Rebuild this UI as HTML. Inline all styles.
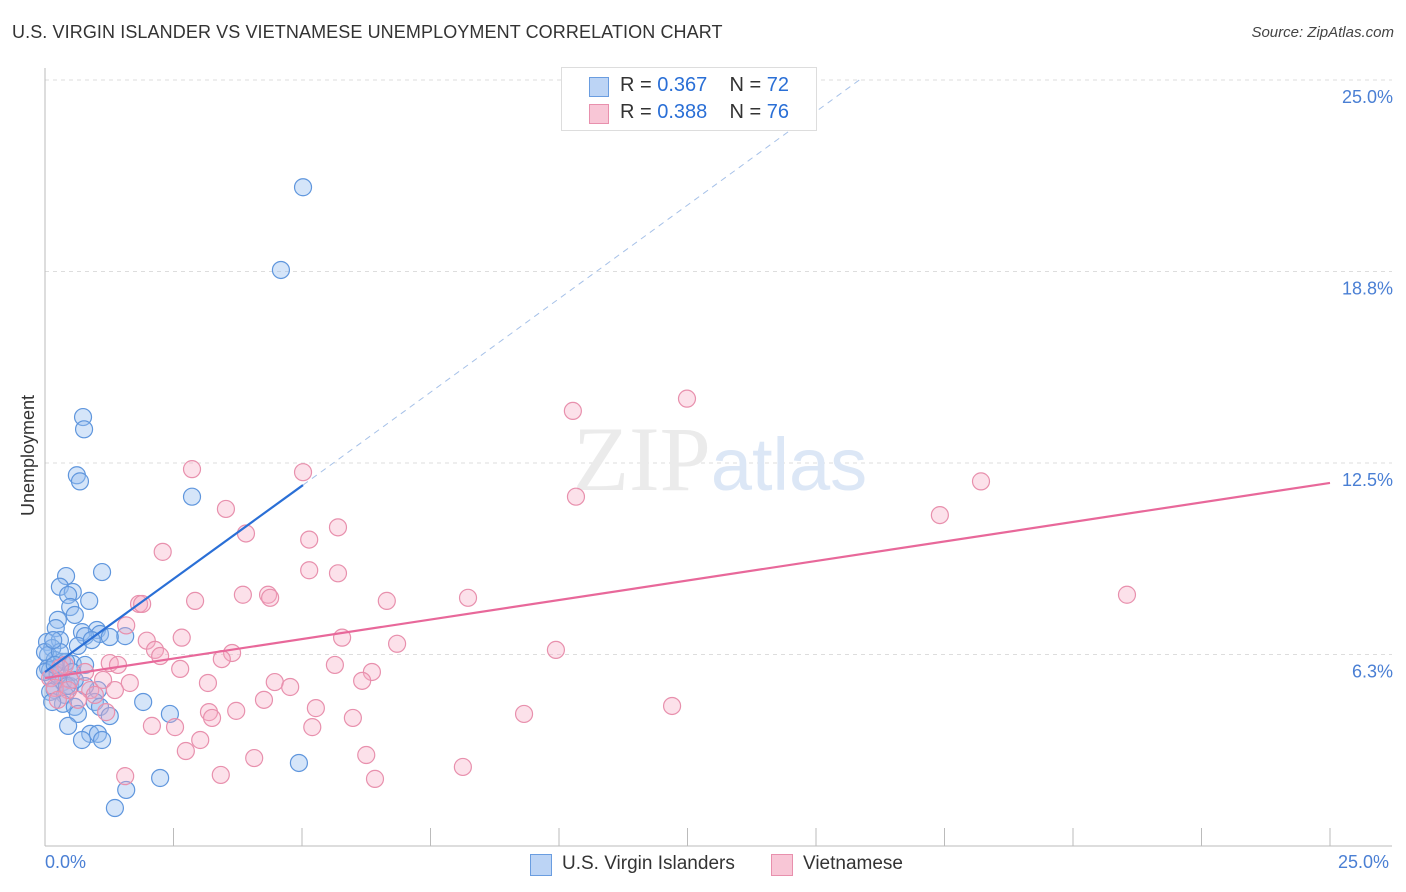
<!DOCTYPE html>
<html><head><meta charset="utf-8">
<style>
body{margin:0;background:#fff;font-family:"Liberation Sans",sans-serif;}
#wrap{position:relative;width:1406px;height:892px;overflow:hidden;}
.t{position:absolute;white-space:nowrap;}
</style></head>
<body>
<div id="wrap">
<div class="t" style="left:12px;top:22px;font-size:18px;color:#333;letter-spacing:0.1px">U.S. VIRGIN ISLANDER VS VIETNAMESE UNEMPLOYMENT CORRELATION CHART</div>
<div class="t" style="right:12px;top:24px;font-size:15px;color:#444;font-style:italic">Source: ZipAtlas.com</div>
<div class="t" style="left:-32px;top:445px;font-size:18px;color:#333;transform:rotate(-90deg)">Unemployment</div>
<svg id="svg" width="1406" height="892" style="position:absolute;left:0;top:0"></svg>
</div>
<script>
const xTicks=[0,2.5,5,7.5,10,12.5,15,17.5,20,22.5,25];
const yGrid=[6.25,12.5,18.75,25];
const yLabels=["6.3%","12.5%","18.8%","25.0%"];
const bx=[5.02,4.59,0.74,0.76,0.62,0.68,2.86,1.11,0.41,0.29,0.54,0.45,0.86,0.49,0.58,0.25,0.21,0.72,1.01,1.07,1.56,0.78,0.04,0.29,0.14,0.06,0.19,0.33,0.54,0.78,0.06,0.23,0.14,0.35,0.49,0.19,1.03,0.10,0.39,0.97,1.91,0.35,0.58,1.07,1.26,0.64,2.43,0.45,0.88,1.03,0.72,1.11,2.24,1.58,1.36,4.94,0.10,0.25,0.00,0.00,0.14,0.41,0.64,0.91,1.26,0.29,0.53,0.78,0.43,0.58,0.19,0.16];
const by=[21.5,18.8,14.0,13.6,12.1,11.9,11.4,8.94,8.81,8.46,8.29,8.19,8.00,7.80,7.54,7.38,7.11,6.98,7.05,6.92,6.85,6.85,6.66,6.72,6.46,6.23,6.07,6.01,5.94,5.91,5.81,5.68,5.48,5.35,5.22,5.09,5.09,5.03,4.93,4.70,4.70,4.64,4.54,4.54,4.24,4.31,4.31,3.92,3.66,3.66,3.46,3.46,2.22,1.83,1.24,2.71,5.74,5.58,6.33,5.68,4.70,6.01,6.53,6.72,6.82,6.33,5.68,5.22,5.22,5.42,5.91,6.72];
const px=[12.49,10.27,2.86,5.02,10.33,18.21,17.41,3.52,5.70,3.91,5.14,2.29,5.14,5.70,3.85,4.34,4.38,2.92,1.83,1.89,6.65,8.23,21.05,1.58,5.78,6.85,2.66,1.98,2.14,2.24,3.64,3.44,9.94,1.26,1.42,2.63,5.64,6.36,6.17,4.47,4.77,3.17,1.65,1.13,0.39,0.49,0.88,0.64,0.10,0.19,4.26,5.27,3.19,3.72,3.25,5.99,9.32,12.20,1.19,2.08,2.53,5.20,3.02,2.74,4.07,6.25,8.13,1.56,3.42,6.42,0.29,0.97,0.78,0.45,0.25,1.36];
const py=[14.6,14.2,12.3,12.2,11.4,11.9,10.8,11.0,10.4,10.2,10.0,9.6,9.0,8.9,8.2,8.2,8.1,8.0,7.9,7.9,8.0,8.1,8.2,7.2,6.8,6.6,6.8,6.7,6.4,6.2,6.3,6.1,6.4,5.97,5.91,5.78,5.91,5.68,5.39,5.35,5.19,5.32,5.32,5.42,5.91,5.42,5.09,4.77,5.48,5.16,4.77,4.50,4.37,4.41,4.18,4.18,4.31,4.57,4.37,3.92,3.88,3.88,3.46,3.10,2.87,2.97,2.58,2.28,2.32,2.19,5.81,4.93,5.68,5.09,4.77,5.09];
const blueTrend=[0,5.68,5.02,11.78];
const blueDash=[5.02,11.78,15.9,25.07];
const pinkTrend=[0,5.48,25,11.85];
const X=v=>45+v/25*1285, Y=v=>846-v/25*766;
const svg=document.getElementById('svg');const NS='http://www.w3.org/2000/svg';
function mk(t,a){const e=document.createElementNS(NS,t);for(const k in a)e.setAttribute(k,a[k]);svg.appendChild(e);return e;}
yGrid.forEach((g,i)=>{
 const l=mk('line',{x1:45,x2:1392,y1:Y(g),y2:Y(g),stroke:'#ddd','stroke-dasharray':'4,4'});
 
 
 const t=mk('text',{x:1393,y:Y(g)+23,'text-anchor':'end','font-size':18,fill:'#4a7fd4','font-family':'Liberation Sans'});
 t.textContent=yLabels[i];
 
 
});
const ax=mk('line',{x1:45,x2:1392,y1:846,y2:846,stroke:'#bbb'});


const ay=mk('line',{x1:45,x2:45,y1:68,y2:846,stroke:'#bbb'});


xTicks.forEach(v=>{const t=mk('line',{x1:X(v),x2:X(v),y1:828,y2:846,stroke:'#bbb'});
 
 });
const wm=mk('text',{x:720,y:490,'text-anchor':'middle','font-size':92,'font-family':'Liberation Serif',fill:'#ebebeb'});
wm.innerHTML='ZIP<tspan fill="#dce7f6" font-family="Liberation Sans" font-size="74">atlas</tspan>';


function dots(xs,ys,fill,stroke,name){xs.forEach((v,i)=>{const c=mk('circle',{cx:X(v),cy:Y(ys[i]),r:8.5,fill:fill,stroke:stroke,'stroke-width':1.2});
 
 });}
dots(bx,by,'rgba(150,190,240,0.4)','#5f96dd','point-virgin-islanders');
dots(px,py,'rgba(245,170,195,0.35)','#e890ad','point-vietnamese');
const bl=mk('line',{x1:X(blueTrend[0]),y1:Y(blueTrend[1]),x2:X(blueTrend[2]),y2:Y(blueTrend[3]),stroke:'#2a6fd6','stroke-width':2.2});


const bd=mk('line',{x1:X(blueDash[0]),y1:Y(blueDash[1]),x2:X(blueDash[2]),y2:Y(blueDash[3]),stroke:'#a6c1e8','stroke-width':1,'stroke-dasharray':'6,5'});


const pl=mk('line',{x1:X(pinkTrend[0]),y1:Y(pinkTrend[1]),x2:X(pinkTrend[2]),y2:Y(pinkTrend[3]),stroke:'#e8689a','stroke-width':2.2});


</script>
<div class="t" style="left:45px;top:852px;font-size:18px;color:#4a7fd4">0.0%</div>
<div class="t" style="left:1338px;top:852px;font-size:18px;color:#4a7fd4">25.0%</div>
<div style="position:absolute;left:561px;top:67px;width:254px;height:62px;border:1px solid #ddd;background:#fff;font-size:20px;color:#333">
 <div style="position:absolute;left:27px;top:9px;width:18px;height:18px;background:#bcd4f5;border:1px solid #6a9de0"></div>
 <div class="t" style="left:58px;top:6px">R = <span style="color:#2a6fd6">0.367</span>&nbsp;&nbsp;&nbsp; N = <span style="color:#2a6fd6">72</span></div>
 <div style="position:absolute;left:27px;top:36px;width:18px;height:18px;background:#f8c6d6;border:1px solid #e890ad"></div>
 <div class="t" style="left:58px;top:33px">R = <span style="color:#2a6fd6">0.388</span>&nbsp;&nbsp;&nbsp; N = <span style="color:#2a6fd6">76</span></div>
</div>
<div style="position:absolute;left:530px;top:853px;font-size:19px;color:#333">
 <div style="position:absolute;left:0;top:1px;width:20px;height:20px;background:#bcd4f5;border:1px solid #6a9de0"></div>
 <div class="t" style="left:32px;top:0">U.S. Virgin Islanders</div></div>
<div style="position:absolute;left:771px;top:853px;font-size:19px;color:#333">
 <div style="position:absolute;left:0;top:1px;width:20px;height:20px;background:#f8c6d6;border:1px solid #e890ad"></div>
 <div class="t" style="left:32px;top:0">Vietnamese</div></div>
</body></html>
